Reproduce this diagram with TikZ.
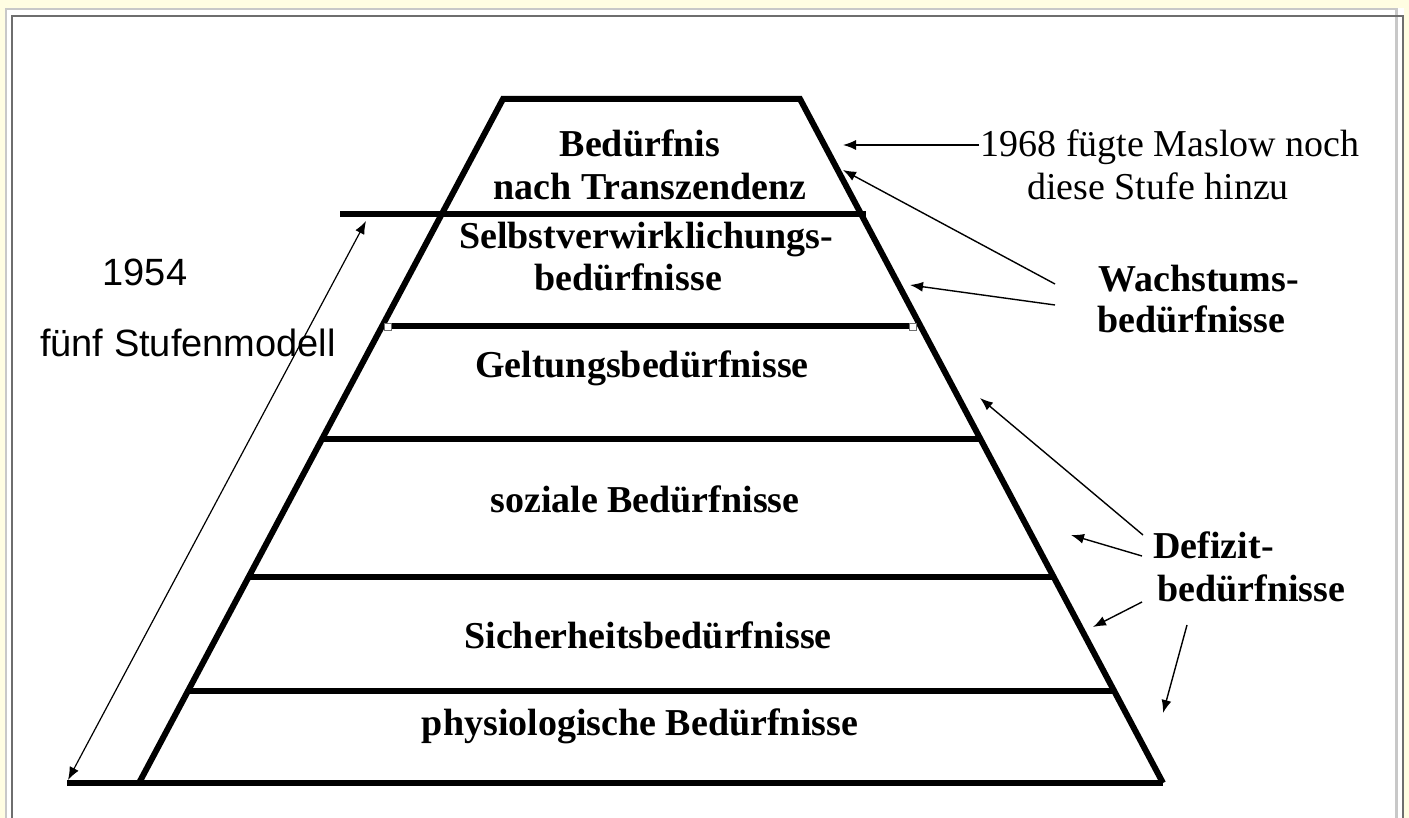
\documentclass[tikz,border=0pt]{standalone}
\usepackage{fontspec}
\setmainfont{Liberation Serif}
\newfontfamily\sansf{Liberation Sans}
\usetikzlibrary{arrows.meta}
\definecolor{bgyellow}{RGB}{255,253,226}
\definecolor{framelight}{RGB}{200,200,200}
\definecolor{framedark}{RGB}{110,110,110}
\begin{document}
\begin{tikzpicture}[x=0.5pt,y=-0.5pt,
  pyr/.style={line width=3pt, line join=miter},
  lvl/.style={line width=2.6pt},
  lab/.style={font=\fontsize{19pt}{21pt}\selectfont\bfseries, inner sep=0pt, anchor=base},
  note/.style={font=\fontsize{19pt}{21pt}\selectfont, inner sep=0pt, anchor=base},
  sanslab/.style={font=\sansf\fontsize{19pt}{21pt}\selectfont, inner sep=0pt, anchor=base},
  arr/.style={line width=0.7pt, -{Latex[length=6.5pt,width=5pt]}},
  darr/.style={line width=0.6pt, {Latex[length=6.5pt,width=5pt]}-{Latex[length=6.5pt,width=5pt]}},
  handle/.style={draw=framedark, fill=white, line width=0.4pt, minimum size=3.5pt, inner sep=0pt},
]
% background and frame
\useasboundingbox (0,0) rectangle (1409,818);
\fill[bgyellow] (0,0) rectangle (1409,818);
\fill[white] (5,8) rectangle (1404,830);
\draw[framelight, line width=1.2pt] (6,830) -- (6,9) -- (1396.5,9) -- (1396.5,830);
\draw[framedark, line width=1.2pt] (12,830) -- (12,16) -- (1403,16) -- (1403,830);

% pyramid
\coordinate (bl) at (139,783);
\coordinate (tl) at (503,99);
\coordinate (tr) at (800,99);
\coordinate (br) at (1163,783);
\coordinate (base0) at (67,783);
\draw[pyr] (bl) -- (tl) -- (tr) -- (br);
\draw[pyr] (base0) -- (br);

% level lines
\coordinate (l1a) at (340,214); \coordinate (l1b) at (866,214);
\coordinate (l2a) at (385,326); \coordinate (l2b) at (916,326);
\coordinate (l3a) at (322,439); \coordinate (l3b) at (980,439);
\coordinate (l4a) at (249,577); \coordinate (l4b) at (1054,577);
\coordinate (l5a) at (188,691); \coordinate (l5b) at (1114,691);
\draw[lvl] (l1a) -- (l1b);
\draw[lvl] (l2a) -- (l2b);
\draw[lvl] (l3a) -- (l3b);
\draw[lvl] (l4a) -- (l4b);
\draw[lvl] (l5a) -- (l5b);
\node[handle] (h1) at (388,327) {};
\node[handle] (h2) at (913,327) {};

% level labels
\node[lab] (t1) at (640,157) {Bedürfnis};
\node[lab] (t2) at (650,200) {nach Transzendenz};
\node[lab] (s1) at (646,249) {Selbstverwirklichungs-};
\node[lab] (s2) at (628,291) {bedürfnisse};
\node[lab] (g1) at (642,378) {Geltungsbedürfnisse};
\node[lab] (so) at (645,512) {soziale Bedürfnisse};
\node[lab] (si) at (648,648) {Sicherheitsbedürfnisse};
\node[lab] (ph) at (640,735) {physiologische Bedürfnisse};

% left annotation
\node[sanslab] (y54) at (145,286) {1954};
\node[sanslab] (fs) at (188,357) {fünf Stufenmodell};
\coordinate (dtop) at (366,221);
\coordinate (dbot) at (68,780);
\draw[darr] (dbot) -- (dtop);

% right annotations
\node[note] (n1) at (1170,157) {1968 fügte Maslow noch};
\node[note] (n2) at (1158,200) {diese Stufe hinzu};
\node[lab, anchor=base west] (w1) at (1098,292) {Wachstums-};
\node[lab, anchor=base west] (w2) at (1097,333) {bedürfnisse};
\node[lab, anchor=base west] (d1) at (1153,558) {Defizit-};
\node[lab, anchor=base west] (d2) at (1157,601) {bedürfnisse};

\coordinate (a1s) at (979,145); \coordinate (a1e) at (843,145);
\coordinate (a2s) at (1055,284); \coordinate (a2e) at (843,170);
\coordinate (a3s) at (1055,305); \coordinate (a3e) at (910,285);
\coordinate (a4s) at (1143,535); \coordinate (a4e) at (980,398);
\coordinate (a5s) at (1142,556); \coordinate (a5e) at (1071,535);
\coordinate (a6s) at (1142,602); \coordinate (a6e) at (1093,627);
\coordinate (a7s) at (1187,625); \coordinate (a7e) at (1163,713);
\draw[arr] (a1s) -- (a1e);
\draw[arr] (a2s) -- (a2e);
\draw[arr] (a3s) -- (a3e);
\draw[arr] (a4s) -- (a4e);
\draw[arr] (a5s) -- (a5e);
\draw[arr] (a6s) -- (a6e);
\draw[arr] (a7s) -- (a7e);
\end{tikzpicture}
\end{document}
